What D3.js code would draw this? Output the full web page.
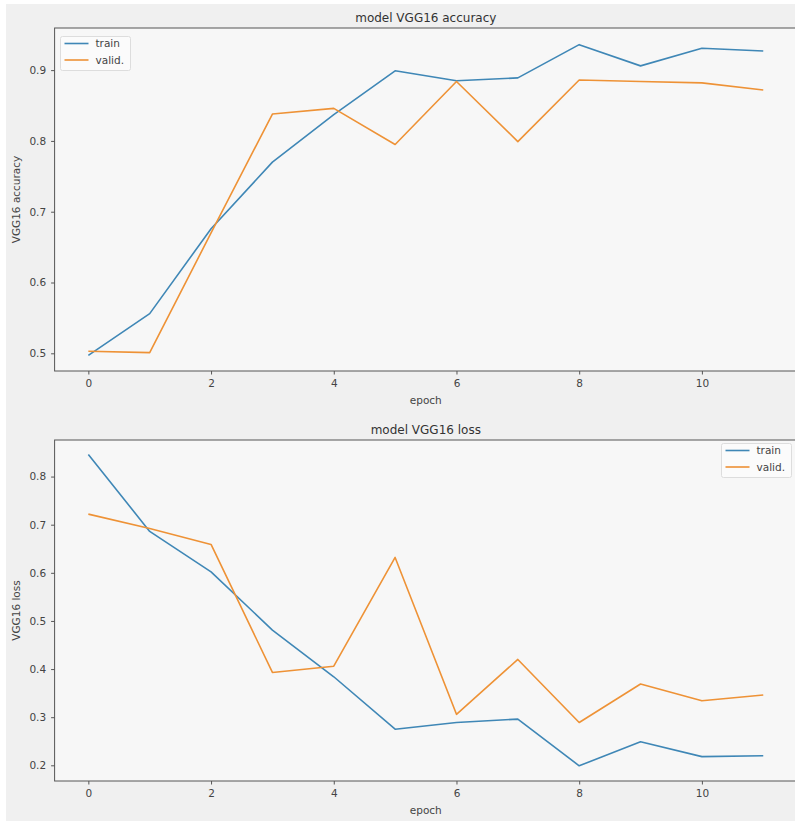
<!DOCTYPE html>
<html>
<head>
<meta charset="utf-8">
<script src="https://cdn.jsdelivr.net/npm/d3@7"></script>
<style>
  html, body { margin: 0; padding: 0; background: #ffffff; }
  svg { display: block; font-family: "DejaVu Sans", sans-serif; }
</style>
</head>
<body>
<svg id="chart" width="795" height="821"></svg>
<script>
// Training history of the VGG16 model
const epochs = [0, 1, 2, 3, 4, 5, 6, 7, 8, 9, 10, 11];
const trainAcc = [0.497, 0.556, 0.676, 0.770, 0.837, 0.899, 0.885, 0.889, 0.936, 0.906, 0.931, 0.927];
const validAcc = [0.503, 0.501, 0.670, 0.838, 0.846, 0.795, 0.884, 0.799, 0.886, 0.884, 0.882, 0.872];
const trainLoss = [0.846, 0.686, 0.602, 0.481, 0.384, 0.275, 0.289, 0.296, 0.199, 0.249, 0.218, 0.220];
const validLoss = [0.722, 0.692, 0.659, 0.393, 0.406, 0.632, 0.306, 0.420, 0.289, 0.369, 0.334, 0.346];
const xTicks = [0, 2, 4, 6, 8, 10];
const accTicks = [0.5, 0.6, 0.7, 0.8, 0.9];
const lossTicks = [0.2, 0.3, 0.4, 0.5, 0.6, 0.7, 0.8];
const seriesNames = ["train", "valid."];

const colors = { train: "#3f87b6", valid: "#ee9236" };
const textColor = "#444";
const spineColor = "#555";

const svg = d3.select("#chart");

// figure background
svg.append("rect").attr("x", 6).attr("y", 4).attr("width", 789).attr("height", 817).attr("fill", "#f0f0f0");

function panel(opts) {
  const { top, bottom, left, right, yDomain, yTicks, title, ylabel, train, valid, legendPos } = opts;
  const g = svg.append("g");
  const x = d3.scaleLinear().domain([-0.55, 11.55]).range([left, right]);
  const y = d3.scaleLinear().domain(yDomain).range([bottom, top]);

  g.append("rect").attr("x", left).attr("y", top).attr("width", right - left).attr("height", bottom - top)
    .attr("fill", "#f7f7f7");

  const line = d3.line().x((d, i) => x(epochs[i])).y(d => y(d));
  g.append("path").datum(train).attr("d", line).attr("fill", "none")
    .attr("stroke", colors.train).attr("stroke-width", 1.6).attr("stroke-linejoin", "round");
  g.append("path").datum(valid).attr("d", line).attr("fill", "none")
    .attr("stroke", colors.valid).attr("stroke-width", 1.6).attr("stroke-linejoin", "round");

  // spines
  g.append("rect").attr("x", left).attr("y", top).attr("width", right - left).attr("height", bottom - top)
    .attr("fill", "none").attr("stroke", spineColor).attr("stroke-width", 1);

  const xAxis = g.append("g").attr("transform", `translate(0,${bottom})`)
    .call(d3.axisBottom(x).tickValues(xTicks).tickFormat(d3.format("d")).tickSize(3.5).tickPadding(5));
  const yAxis = g.append("g").attr("transform", `translate(${left},0)`)
    .call(d3.axisLeft(y).tickValues(yTicks).tickFormat(d3.format(".1f")).tickSize(3.5).tickPadding(5));
  [xAxis, yAxis].forEach(a => {
    a.select(".domain").remove();
    a.selectAll(".tick line").attr("stroke", spineColor);
    a.selectAll(".tick text").attr("fill", textColor).attr("font-size", 10.5)
      .attr("font-family", "DejaVu Sans, sans-serif");
  });

  g.append("text").attr("x", (left + right) / 2).attr("y", top - 6).attr("text-anchor", "middle")
    .attr("font-size", 12).attr("fill", "#333").text(title);
  g.append("text").attr("x", (left + right) / 2).attr("y", bottom + 33).attr("text-anchor", "middle")
    .attr("font-size", 10.5).attr("fill", textColor).text("epoch");
  g.append("text").attr("transform", `translate(20,${(top + bottom) / 2}) rotate(-90)`)
    .attr("text-anchor", "middle").attr("font-size", 10.5).attr("fill", textColor).text(ylabel);

  // legend
  const lg = g.append("g").attr("transform", `translate(${legendPos[0]},${legendPos[1]})`);
  lg.append("rect").attr("width", 70).attr("height", 34).attr("rx", 2)
    .attr("fill", "#fbfbfb").attr("stroke", "#ddd").attr("stroke-width", 1);
  [colors.train, colors.valid].forEach((c, i) => {
    const yy = 7 + i * 16.5;
    lg.append("line").attr("x1", 4).attr("x2", 28).attr("y1", yy).attr("y2", yy)
      .attr("stroke", c).attr("stroke-width", 1.6);
    lg.append("text").attr("x", 35).attr("y", yy).attr("dy", "0.35em")
      .attr("font-size", 10.5).attr("fill", textColor).text(seriesNames[i]);
  });
}

panel({
  top: 28, bottom: 371, left: 54.6, right: 797,
  yDomain: [0.475, 0.9595], yTicks: accTicks,
  title: "model VGG16 accuracy", ylabel: "VGG16 accuracy",
  train: trainAcc, valid: validAcc, legendPos: [60.5, 36.5]
});
panel({
  top: 440, bottom: 781, left: 54.6, right: 797,
  yDomain: [0.1674, 0.876], yTicks: lossTicks,
  title: "model VGG16 loss", ylabel: "VGG16 loss",
  train: trainLoss, valid: validLoss, legendPos: [721.5, 443.5]
});
</script>
</body>
</html>
